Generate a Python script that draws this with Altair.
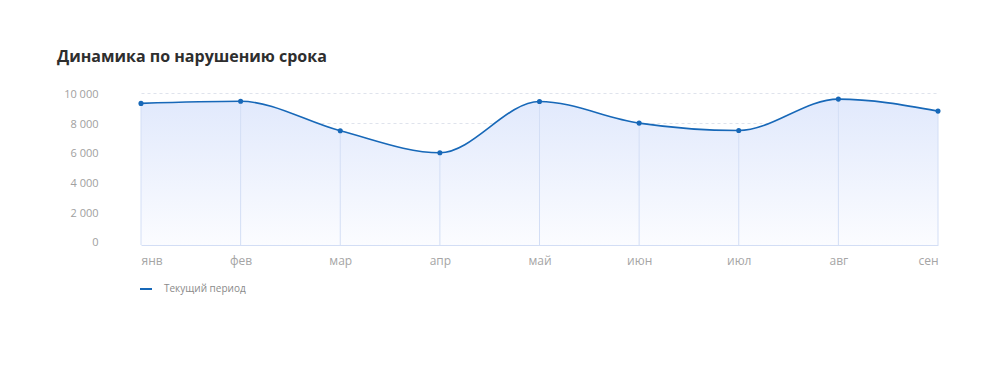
import altair as alt
import pandas as pd

months = ["янв", "фев", "мар", "апр", "май", "июн", "июл", "авг", "сен"]
values = [9300, 9440, 7450, 5970, 9430, 7970, 7470, 9590, 8780]
series = ["Текущий период"] * len(months)
y_ticks = [0, 2000, 4000, 6000, 8000, 10000]
y_floor = -250
title_text = "Динамика по нарушению срока"

df = pd.DataFrame({"month": months, "value": values, "series": series, "floor": [y_floor] * len(months)})

LINE = "#1768b8"
FONT = "Open Sans"

x_enc = alt.X("month:N", sort=months, scale=alt.Scale(type="point", padding=0),
              axis=alt.Axis(title=None, labelAngle=0, ticks=False, domain=True, domainColor="#d3def5",
                            grid=False, labelColor="#a5a5a5", labelFontSize=12, labelFont=FONT,
                            labelPadding=10, labelFlush=True))
y_enc = alt.Y("value:Q", scale=alt.Scale(domain=[y_floor, 10000], nice=False, zero=False),
              axis=alt.Axis(title=None, values=y_ticks, tickCount=6, ticks=False, domain=False,
                            labelOverlap=False, labelOffset=1.5,
                            labelExpr="replace(format(datum.value, ','), ',', ' ')",
                            labelColor="#a0a0a0", labelFontSize=11, labelFont=FONT, labelPadding=43,
                            gridColor="#dfe3ec", gridDash=[3, 3], gridWidth=1,
                            gridOpacity={"expr": "datum.value == 0 ? 0 : 1"}))

area = alt.Chart(df).mark_area(
    interpolate="monotone",
    color=alt.Gradient(gradient="linear", x1=1, x2=1, y1=0, y2=1,
                       stops=[alt.GradientStop(color="#e1e9fc", offset=0),
                              alt.GradientStop(color="#fbfcff", offset=1)])
).encode(x=x_enc, y=y_enc, y2="floor:Q")

rules = alt.Chart(df).mark_rule(color="#d3def5", strokeWidth=1).encode(
    x=x_enc, y=y_enc, y2="floor:Q"
)

line = alt.Chart(df).mark_line(interpolate="monotone", strokeWidth=1.6).encode(
    x=x_enc,
    y=y_enc,
    color=alt.Color("series:N", scale=alt.Scale(range=[LINE]),
                    legend=alt.Legend(title=None, orient="none", legendX=-2, legendY=189,
                                      symbolType="stroke", symbolSize=144, symbolStrokeWidth=2,
                                      labelFont=FONT, labelFontSize=10, labelColor="#8a8a8a",
                                      labelOffset=11)),
)

points = alt.Chart(df).mark_circle(size=26, opacity=1, color=LINE).encode(x=x_enc, y=y_enc)

chart = alt.layer(area, rules, line, points).properties(
    width=797, height=152,
    background="white",
    title=alt.TitleParams(title_text, anchor="start", frame="group", dx=-84, offset=24, font=FONT,
                          fontSize=16, fontWeight="bold", color="#2e2e2e"),
    autosize=alt.AutoSizeParams(type="none"),
    padding={"left": 133, "top": 85, "right": 54, "bottom": 115},
).configure_view(stroke=None)

chart.save("out.html", embed_options={"renderer": "svg", "actions": False})
